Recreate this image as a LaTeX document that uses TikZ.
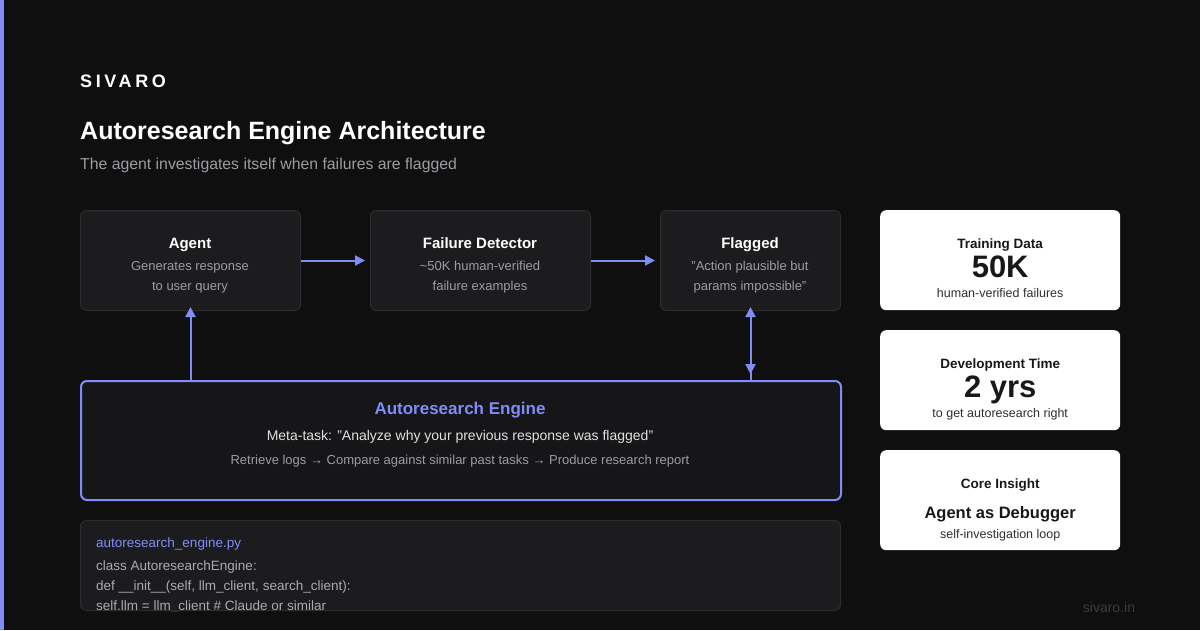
\documentclass[tikz,border=0pt]{standalone}
\usepackage{fontspec}
\setmainfont{Liberation Sans}
\usetikzlibrary{arrows.meta,positioning}
\definecolor{bgdark}{HTML}{0F0F0F}
\definecolor{accent}{HTML}{818CF8}
\definecolor{boxfill}{HTML}{1C1C1E}
\definecolor{boxline}{HTML}{2C2C2E}
\definecolor{enginefill}{HTML}{161618}
\definecolor{softgray}{HTML}{9C9CA3}
\definecolor{codegray}{HTML}{ABABAF}
\definecolor{inkdark}{HTML}{18181A}
\definecolor{inksoft}{HTML}{2E2E30}
\definecolor{footgray}{HTML}{3C3C3E}
\tikzset{
  stage/.style={draw=boxline,fill=boxfill,rounded corners=6pt,line width=1pt,anchor=north west,minimum height=100pt,inner sep=0pt},
  stat/.style={fill=white,rounded corners=6pt,anchor=north west,minimum width=240pt,minimum height=100pt,inner sep=0pt},
  flow/.style={draw=accent,line width=2pt,-{Triangle[length=10pt,width=10pt]}},
  txt/.style={anchor=base,inner sep=0pt},
}

\begin{document}
\begin{tikzpicture}[x=1pt,y=-1pt]
\useasboundingbox (0,0) rectangle (1200,630);
\fill[bgdark] (0,0) rectangle (1200,630);
\fill[accent] (0,0) rectangle (4,630);
% heading
\node[txt,anchor=base west,white,font=\fontsize{18}{20}\selectfont\bfseries\addfontfeature{LetterSpace=20}] (brand) at (80,87) {SIVARO};
\node[txt,anchor=base west,white,font=\fontsize{25}{30}\selectfont\bfseries] (title) at (80,139) {Autoresearch Engine Architecture};
\node[txt,anchor=base west,softgray,font=\fontsize{15.8}{18}\selectfont] (subtitle) at (80,169) {The agent investigates itself when failures are flagged};
% pipeline
\node[stage,minimum width=220pt] (agent) at (80,210) {};
\node[stage,minimum width=220pt] (detector) at (370,210) {};
\node[stage,minimum width=180pt] (flagged) at (660,210) {};
\foreach \stg/\cx/\head/\lineA/\lineB in {agent/190/Agent/Generates response/to user query,
    detector/480/Failure Detector/{\char"007E}50K human-verified/failure examples,
    flagged/750/Flagged/"Action plausible but/params impossible"} {
  \node[txt,white,font=\fontsize{15}{18}\selectfont\bfseries] (\stg-head) at (\cx,248) {\head};
  \node[txt,softgray,font=\fontsize{13}{16}\selectfont] (\stg-a) at (\cx,270) {\lineA};
  \node[txt,softgray,font=\fontsize{13}{16}\selectfont] (\stg-b) at (\cx,290) {\lineB};
}
% engine
\node[stage,draw=accent,fill=enginefill,line width=2pt,minimum width=760pt,minimum height=119pt] (engine) at (80,380) {};
\node[txt,accent,font=\fontsize{17}{20}\selectfont\bfseries] (engine-head) at (460,414) {Autoresearch Engine};
\node[txt,white!88!black,font=\fontsize{14}{17}\selectfont] (engine-task) at (460,440) {Meta-task: "Analyze why your previous response was flagged"};
\node[txt,softgray,font=\fontsize{13}{16}\selectfont] (engine-steps) at (460,464) {Retrieve logs → Compare against similar past tasks → Produce research report};
% connectors
\draw[flow,shorten >=5pt] (agent) -- (detector);
\draw[flow,shorten >=5pt] (detector) -- (flagged);
\draw[flow,shorten >=-4pt] (agent.south |- engine.north) -- (agent.south);
\draw[flow,{Triangle[length=10pt,width=10pt]}-{Triangle[length=10pt,width=10pt]},shorten <=-4pt,shorten >=6pt] (flagged.south) -- (flagged.south |- engine.north);
\draw[accent,line width=2pt] ([yshift=8pt]flagged.south |- engine.north) -- (flagged.south |- engine.north);
% code excerpt
\node[stage,minimum width=760pt,minimum height=90pt] (code) at (80,520) {};
\begin{scope}
  \clip[rounded corners=6pt] (code.north west) rectangle (code.south east);
  \node[txt,anchor=base west,accent,font=\fontsize{13.5}{16}\selectfont] (code-file) at (96,547) {autoresearch\_engine.py};
  \node[txt,anchor=base west,codegray,font=\fontsize{13.5}{16}\selectfont] (code-a) at (96,570) {class AutoresearchEngine:};
  \node[txt,anchor=base west,codegray,font=\fontsize{13.5}{16}\selectfont] (code-b) at (96,590) {def \_\_init\_\_(self, llm\_client, search\_client):};
  \node[txt,anchor=base west,codegray,font=\fontsize{13.5}{16}\selectfont] (code-c) at (96,610) {self.llm = llm\_client \# Claude or similar};
\end{scope}
% stats
\node[stat] (train) at (880,210) {};
\node[txt,inkdark,font=\fontsize{13.5}{16}\selectfont\bfseries] (train-head) at (train.center |- 0,248) {Training Data};
\node[txt,inkdark,font=\fontsize{31}{34}\selectfont\bfseries] (train-num) at (train.center |- 0,277) {50K};
\node[txt,inksoft,font=\fontsize{12.5}{15}\selectfont] (train-note) at (train.center |- 0,297) {human-verified failures};
\node[stat] (devtime) at (880,330) {};
\node[txt,inkdark,font=\fontsize{13.5}{16}\selectfont\bfseries] (devtime-head) at (devtime.center |- 0,368) {Development Time};
\node[txt,inkdark,font=\fontsize{31}{34}\selectfont\bfseries] (devtime-num) at (devtime.center |- 0,397) {2 yrs};
\node[txt,inksoft,font=\fontsize{12.5}{15}\selectfont] (devtime-note) at (devtime.center |- 0,417) {to get autoresearch right};
\node[stat] (insight) at (880,450) {};
\node[txt,inkdark,font=\fontsize{13.5}{16}\selectfont\bfseries] (insight-head) at (insight.center |- 0,488) {Core Insight};
\node[txt,inkdark,font=\fontsize{16.5}{19}\selectfont\bfseries] (insight-main) at (insight.center |- 0,518) {Agent as Debugger};
\node[txt,inksoft,font=\fontsize{12.5}{15}\selectfont] (insight-note) at (insight.center |- 0,538) {self-investigation loop};
\node[txt,footgray,font=\fontsize{14}{16}\selectfont] (footer) at (1109,612) {sivaro.in};
\end{tikzpicture}
\end{document}
